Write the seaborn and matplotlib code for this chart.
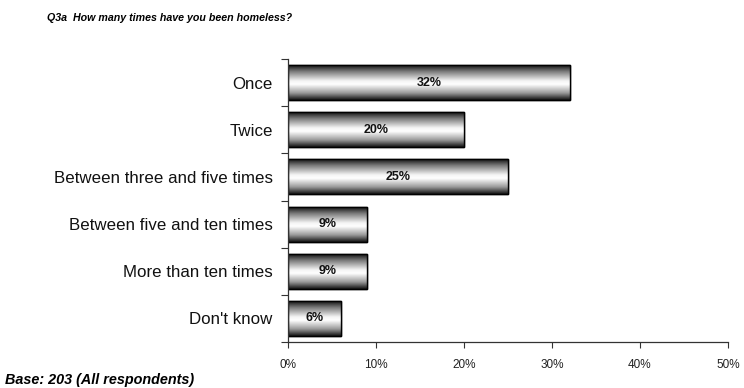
import numpy as np
import pandas as pd
import matplotlib
matplotlib.use("Agg")
import matplotlib.pyplot as plt
import seaborn as sns
from matplotlib.colors import LinearSegmentedColormap

categories = ["Once", "Twice", "Between three and five times",
              "Between five and ten times", "More than ten times", "Don't know"]
values = [32, 20, 25, 9, 9, 6]
x_ticks = [0, 10, 20, 30, 40, 50]
x_tick_labels = ["0%", "10%", "20%", "30%", "40%", "50%"]

df = pd.DataFrame({"category": categories, "value": values})

sns.set_theme(style="white")
plt.rcParams["font.family"] = ["Liberation Sans", "DejaVu Sans"]

fig = plt.figure(figsize=(7.44, 3.88), dpi=100)
ax = fig.add_axes([288 / 744, 1 - 342 / 388, 440 / 744, 283 / 388])

sns.barplot(data=df, x="value", y="category", order=categories, ax=ax,
            color="white", width=0.74, edgecolor="black", linewidth=1.0,
            orient="h")

# cylindrical shading: dark edges, bright centre
shade = LinearSegmentedColormap.from_list(
    "cyl", [(0.0, "#111111"), (0.18, "#7a7a7a"), (0.45, "#f4f4f4"),
            (0.55, "#ffffff"), (0.8, "#9a9a9a"), (1.0, "#111111")])
grad = np.linspace(0, 1, 256).reshape(-1, 1)
for patch, v in zip(ax.patches, values):
    x0, y0 = patch.get_x(), patch.get_y()
    w, h = patch.get_width(), patch.get_height()
    im = ax.imshow(grad, cmap=shade, aspect="auto",
                   extent=[x0, x0 + w, y0 + h, y0], zorder=patch.get_zorder() + 0.1,
                   interpolation="bicubic")
    im.set_clip_path(patch)
    ax.add_patch(plt.Rectangle((x0, y0), w, h, fill=False, edgecolor="black",
                               linewidth=1.0, zorder=patch.get_zorder() + 0.2))
    ax.text(x0 + w / 2, y0 + h / 2, f"{v}%", ha="center", va="center",
            fontsize=9, fontweight="bold", color="#111111", zorder=5)

ax.set_xlim(0, 50)
ax.set_ylim(len(categories) - 0.5, -0.5)
ax.set_xticks(x_ticks)
ax.set_xticklabels(x_tick_labels, fontsize=8.5, color="#222222")
ax.set_yticks(range(len(categories)))
ax.set_yticklabels(categories, fontsize=12.2, color="#111111")
ax.set_yticks(np.arange(-0.5, len(categories), 1), minor=True)
ax.tick_params(axis="y", which="major", length=0, pad=11)
ax.tick_params(axis="y", which="minor", length=5, width=0.8, color="#333333", direction="out", left=True)
ax.tick_params(axis="x", which="major", length=4, width=0.8, color="#333333", direction="out", bottom=True, pad=8)
ax.set_xlabel("")
ax.set_ylabel("")
for s in ["top", "right"]:
    ax.spines[s].set_visible(False)
for s in ["left", "bottom"]:
    ax.spines[s].set_color("#333333")
    ax.spines[s].set_linewidth(0.9)

fig.text(47 / 744, 1 - 18 / 388, "Q3a  How many times have you been homeless?",
         fontsize=7.7, fontweight="bold", fontstyle="italic", va="center", ha="left",
         color="black")
fig.text(5 / 744, 1 - 380 / 388, "Base: 203 (All respondents)",
         fontsize=10.4, fontweight="bold", fontstyle="italic", va="center", ha="left",
         color="black")

fig.savefig("out.png", dpi=100)
